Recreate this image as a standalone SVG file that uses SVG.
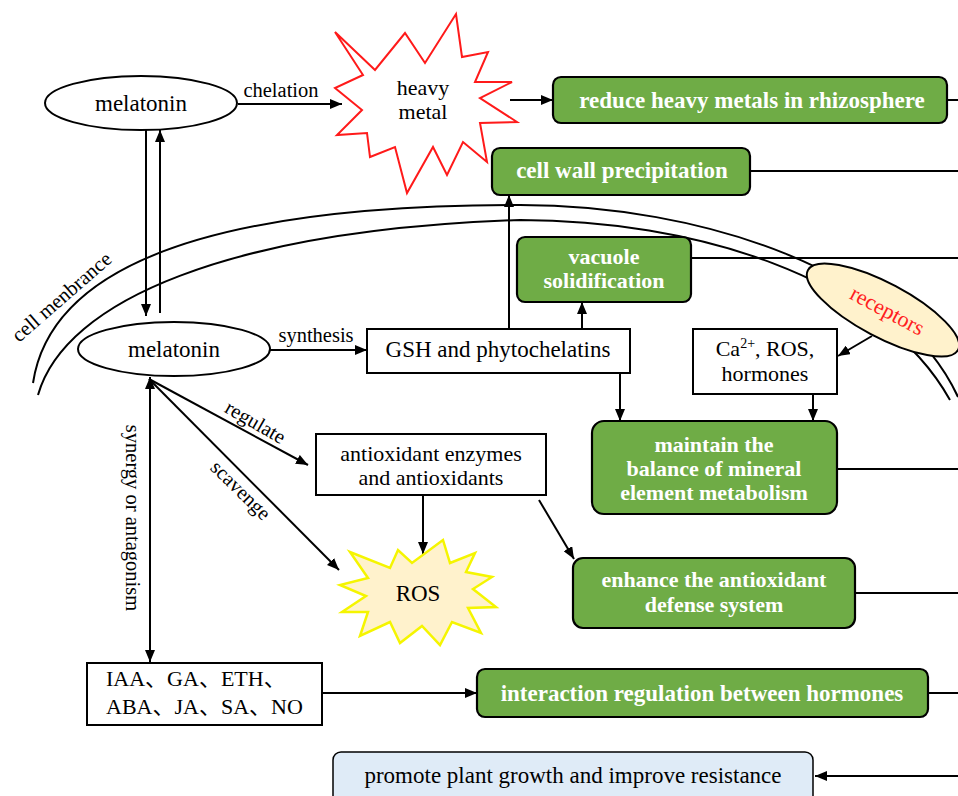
<svg xmlns="http://www.w3.org/2000/svg" width="958" height="796" viewBox="0 0 958 796" font-family="'Liberation Serif','Times New Roman',serif">
<style>
text{font-family:"Liberation Serif","Times New Roman",serif;fill:#000}
.t{font-size:23px;text-anchor:middle}
.t2{font-size:22px;text-anchor:middle}
.lab{font-size:20.5px}
.g{font-size:23px;font-weight:bold;fill:#fff;text-anchor:middle}
.g2{font-size:22px;font-weight:bold;fill:#fff;text-anchor:middle}
.box{fill:#fff;stroke:#000;stroke-width:2}
.gbox{fill:#6fac46;stroke:#000;stroke-width:2.2}
.ln{fill:none;stroke:#000;stroke-width:2}
.mem{fill:none;stroke:#000;stroke-width:2}
</style>
<defs>
<marker id="arr" viewBox="0 0 12 10" refX="12" refY="5" markerWidth="12" markerHeight="10" markerUnits="userSpaceOnUse" orient="auto-start-reverse">
<path d="M0,0 L12,5 L0,10 z" fill="#000"/>
</marker>
</defs>
<rect width="958" height="796" fill="#fff"/>

<g id="membrane">
<path class="mem" d="M33,383 C50,270 200,205 520,205 C700,205 900,270 958,397"/>
<path class="mem" d="M38,395 C65,300 230,230 520,220 C690,220 880,275 950,400"/>
<text class="lab" transform="translate(66,302) rotate(-41)" text-anchor="middle">cell menbrance</text>
</g>

<g id="connectors">
<line class="ln" x1="238" y1="104" x2="342" y2="104" marker-end="url(#arr)"/>
<text class="lab" x="281" y="97" text-anchor="middle">chelation</text>
<line class="ln" x1="510" y1="100" x2="553" y2="100" marker-end="url(#arr)"/>
<line class="ln" x1="947" y1="100" x2="958" y2="100"/>
<line class="ln" x1="750" y1="171" x2="958" y2="171"/>
<line class="ln" x1="691" y1="258" x2="958" y2="258"/>
<line class="ln" x1="837" y1="469" x2="958" y2="469"/>
<line class="ln" x1="855" y1="593" x2="958" y2="593"/>
<line class="ln" x1="928" y1="693" x2="958" y2="693"/>
<line class="ln" x1="958" y1="776" x2="815" y2="776" marker-end="url(#arr)"/>
<line class="ln" x1="146" y1="130" x2="146" y2="316" marker-end="url(#arr)"/>
<line class="ln" x1="160" y1="313" x2="160" y2="130" marker-end="url(#arr)"/>
<line class="ln" x1="270" y1="350" x2="367" y2="350" marker-end="url(#arr)"/>
<text class="lab" x="316" y="342" text-anchor="middle">synthesis</text>
<line class="ln" x1="509" y1="329" x2="509" y2="195" marker-end="url(#arr)"/>
<line class="ln" x1="582" y1="329" x2="582" y2="302" marker-end="url(#arr)"/>
<line class="ln" x1="620" y1="373" x2="620" y2="421" marker-end="url(#arr)"/>
<line class="ln" x1="813" y1="394" x2="813" y2="421" marker-end="url(#arr)"/>
<line class="ln" x1="872" y1="336" x2="838" y2="356" marker-end="url(#arr)"/>
<line class="ln" x1="149" y1="379" x2="308" y2="465" marker-end="url(#arr)"/>
<text class="lab" transform="translate(252,428) rotate(30)" text-anchor="middle">regulate</text>
<line class="ln" x1="149" y1="379" x2="339" y2="570" marker-end="url(#arr)"/>
<text class="lab" transform="translate(236,495) rotate(44.5)" text-anchor="middle">scavenge</text>
<line class="ln" x1="150" y1="377" x2="150" y2="662" marker-start="url(#arr)" marker-end="url(#arr)"/>
<text class="lab" transform="translate(126,518) rotate(90)" text-anchor="middle">synergy or antagonism</text>
<line class="ln" x1="423" y1="495" x2="423" y2="554" marker-end="url(#arr)"/>
<line class="ln" x1="539" y1="500" x2="574" y2="559" marker-end="url(#arr)"/>
<line class="ln" x1="322" y1="693" x2="477" y2="693" marker-end="url(#arr)"/>
</g>

<g id="melatonin-out">
<ellipse cx="141" cy="103" rx="96" ry="27" class="box"/>
<text class="t" x="141" y="111">melatonin</text>
</g>

<g id="heavy-metal">
<polygon points="335,32 375,70 405,33 425,63 456,14 462,57 488,52 475,82 512,82 480,98 517,122 480,123 487,162 463,142 447,175 433,147 407,193 395,147 370,157 367,133 337,135 362,110 335,88 363,75" fill="#fff" stroke="#ff1a1a" stroke-width="2"/>
<text class="t2" x="423" y="95">heavy</text>
<text class="t2" x="423" y="119">metal</text>
</g>

<g id="reduce">
<rect x="553" y="77" width="394" height="46" rx="8" class="gbox"/>
<text class="g" x="752" y="108">reduce heavy metals in rhizosphere</text>
</g>

<g id="cellwall">
<rect x="492" y="148" width="258" height="47" rx="8" class="gbox"/>
<text class="g" x="622" y="178">cell wall precipitation</text>
</g>

<g id="vacuole">
<rect x="517" y="237" width="174" height="65" rx="8" class="gbox"/>
<text class="g2" x="604" y="264">vacuole</text>
<text class="g2" x="604" y="288">solidification</text>
</g>

<g id="melatonin-in">
<ellipse cx="174" cy="349" rx="96" ry="27" class="box"/>
<text class="t" x="174" y="357">melatonin</text>
</g>

<g id="gsh">
<rect x="367" y="329" width="263" height="44" class="box"/>
<text class="t" x="498" y="357">GSH and phytochelatins</text>
</g>

<g id="ca">
<rect x="693" y="329" width="144" height="65" class="box"/>
<text class="t2" x="765" y="356">Ca<tspan dy="-8" font-size="14">2+</tspan><tspan dy="8">, ROS,</tspan></text>
<text class="t2" x="765" y="381">hormones</text>
</g>

<g id="receptors">
<ellipse cx="883" cy="310" rx="85" ry="27" transform="rotate(28 883 310)" fill="#fff2cc" stroke="#000" stroke-width="2"/>
<text transform="translate(884,317) rotate(28)" text-anchor="middle" font-size="22" style="fill:#ff2020">receptors</text>
</g>

<g id="maintain">
<rect x="592" y="421" width="245" height="93" rx="12" class="gbox"/>
<text class="g2" x="714" y="452">maintain the</text>
<text class="g2" x="714" y="476">balance of mineral</text>
<text class="g2" x="714" y="500">element metabolism</text>
</g>

<g id="antiox">
<rect x="316" y="434" width="230" height="61" class="box"/>
<text class="t2" x="431" y="461">antioxidant enzymes</text>
<text class="t2" x="431" y="485">and antioxidants</text>
</g>

<g id="ros">
<polygon points="443,540 450,563 475,553 466,572 492,577 473,589 496,607 468,608 481,633 452,622 440,645 422,626 400,643 390,622 360,636 368,612 342,612 366,596 340,585 368,578 350,552 390,568 398,550 412,563" fill="#fff2cc" stroke="#f5f500" stroke-width="2.5"/>
<text class="t" x="418" y="601">ROS</text>
</g>

<g id="enhance">
<rect x="573" y="558" width="282" height="70" rx="10" class="gbox"/>
<text class="g2" x="714" y="587">enhance the antioxidant</text>
<text class="g2" x="714" y="612">defense system</text>
</g>

<g id="hormones">
<rect x="87" y="663" width="235" height="62" class="box"/>
<text x="106" y="686" font-size="22" style="font-family:'Liberation Serif','Noto Sans CJK SC',serif">IAA、GA、ETH、</text>
<text x="106" y="714" font-size="22" style="font-family:'Liberation Serif','Noto Sans CJK SC',serif">ABA、JA、SA、NO</text>
</g>

<g id="interaction">
<rect x="477" y="669" width="451" height="48" rx="8" class="gbox"/>
<text class="g" x="702" y="701">interaction regulation between hormones</text>
</g>

<g id="promote">
<rect x="333" y="752" width="480" height="52" rx="8" fill="#dfebf7" stroke="#000" stroke-width="1.5"/>
<text class="t" x="573" y="783">promote plant growth and improve resistance</text>
</g>
</svg>
